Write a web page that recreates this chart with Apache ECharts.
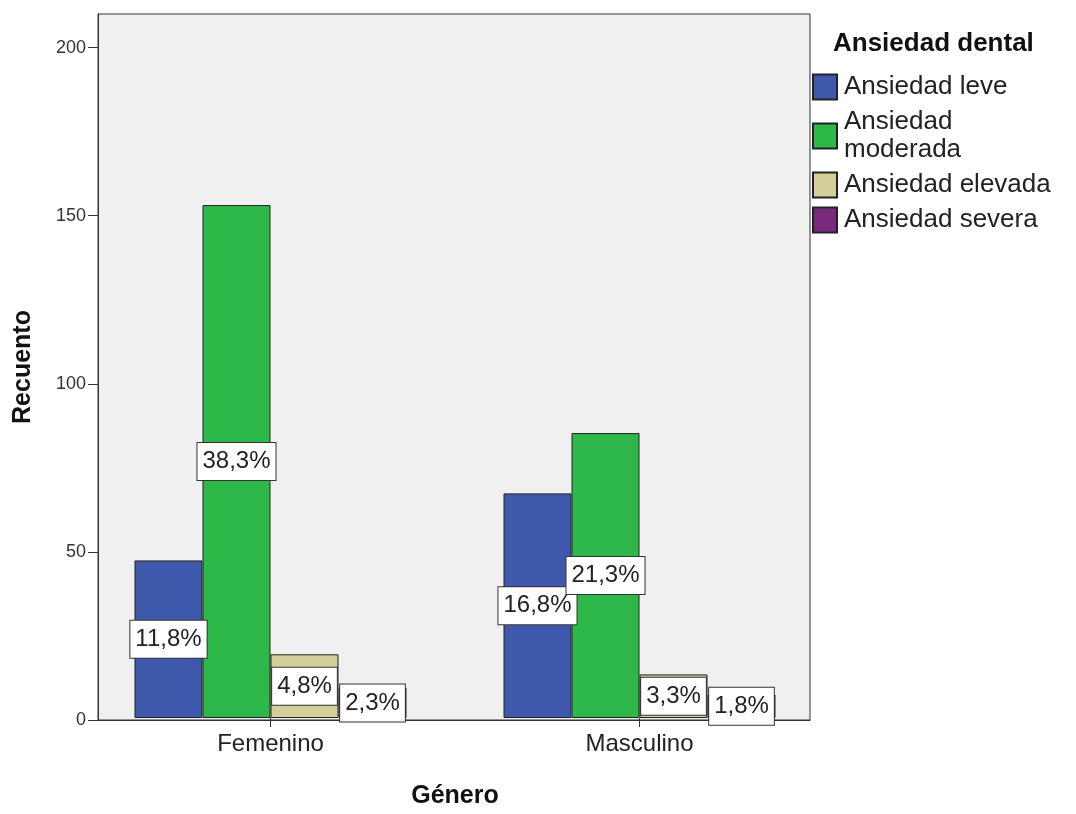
<!DOCTYPE html>
<html>
<head>
<meta charset="utf-8">
<script src="https://cdn.jsdelivr.net/npm/echarts@6/dist/echarts.min.js"></script>
<style>
html,body{margin:0;padding:0;background:#fff;}
#chart{width:1076px;height:814px;}
</style>
</head>
<body>
<div id="chart"></div>
<script>
const categories = ['Femenino', 'Masculino'];
const seriesNames = ['Ansiedad leve', 'Ansiedad moderada', 'Ansiedad elevada', 'Ansiedad severa'];
const leve = [47, 67];
const moderada = [153, 85];
const elevada = [19, 13];
const severa = [9, 7];
const levePct = ['11,8%', '16,8%'];
const moderadaPct = ['38,3%', '21,3%'];
const elevadaPct = ['4,8%', '3,3%'];
const severaPct = ['2,3%', '1,8%'];
const yTicks = { min: 0, max: 210, interval: 50 };

const colors = ['#3e58ab', '#2eb84a', '#d4cf98', '#7a2a7c'];
const FONT = '"Liberation Sans", Arial, sans-serif';
const values = [leve, moderada, elevada, severa];
const pcts = [levePct, moderadaPct, elevadaPct, severaPct];

const chart = echarts.init(document.getElementById('chart'));
const series = seriesNames.map((name, i) => ({
  name: name,
  type: 'bar',
  xAxisIndex: 1,
  yAxisIndex: 1,
  barWidth: 68,
  barGap: '0%',
  data: values[i],
  itemStyle: { color: colors[i], borderColor: '#222', borderWidth: 1 },
  label: {
    show: true,
    position: 'inside',
    formatter: p => pcts[i][p.dataIndex],
    fontFamily: FONT,
    fontSize: 24,
    lineHeight: 27,
    color: '#222',
    backgroundColor: '#fff',
    borderColor: '#333',
    borderWidth: 1,
    padding: [5, 5, 5, 5]
  },
  emphasis: { disabled: true },
  animation: false
}));

chart.setOption({
  animation: false,
  textStyle: { fontFamily: FONT },
  title: {
    text: 'Ansiedad dental',
    left: 828, top: 26,
    textStyle: { fontFamily: FONT, fontSize: 26, fontWeight: 'bold', color: '#111' }
  },
  legend: {
    orient: 'vertical',
    left: 807, top: 68,
    itemWidth: 24, itemHeight: 25, itemGap: 7,
    icon: 'rect',
    selectedMode: false,
    data: seriesNames,
    formatter: n => n === 'Ansiedad moderada' ? 'Ansiedad\nmoderada' : n,
    textStyle: { fontFamily: FONT, fontSize: 26, lineHeight: 28, color: '#222', padding: [0, 0, 0, 2] }
  },
  grid: [
    { left: 98, top: 14, right: 266, bottom: 94, show: true, backgroundColor: '#f0f0f0', borderColor: '#333', borderWidth: 1 },
    { left: 86, top: 14, right: 252, bottom: 94 }
  ],
  xAxis: [
    { gridIndex: 0, type: 'category', data: categories,
      axisLine: { show: true, lineStyle: { color: '#333', width: 1 } },
      axisTick: { show: false }, axisLabel: { show: false }, splitLine: { show: false } },
    { gridIndex: 1, type: 'category', data: categories,
      axisLine: { show: false },
      axisTick: { show: true, alignWithLabel: true, length: 9, lineStyle: { color: '#333' } },
      axisLabel: { fontFamily: FONT, fontSize: 24, color: '#222', margin: 14 },
      name: 'Género', nameLocation: 'middle', nameGap: 66,
      nameTextStyle: { fontFamily: FONT, fontSize: 25, fontWeight: 'bold', color: '#111' } }
  ],
  yAxis: [
    { gridIndex: 0, type: 'value', min: yTicks.min, max: yTicks.max, interval: yTicks.interval,
      axisLine: { show: true, lineStyle: { color: '#333', width: 1 } },
      axisTick: { show: true, length: 10, lineStyle: { color: '#333' } },
      axisLabel: { fontFamily: FONT, fontSize: 18, color: '#333', margin: 12, showMaxLabel: false },
      splitLine: { show: false },
      name: 'Recuento', nameLocation: 'middle', nameGap: 62, nameRotate: 90,
      nameTextStyle: { fontFamily: FONT, fontSize: 25, fontWeight: 'bold', color: '#111' } },
    { gridIndex: 1, type: 'value', min: yTicks.min, max: yTicks.max, interval: yTicks.interval, show: false }
  ],
  series: series
});
</script>
</body>
</html>
